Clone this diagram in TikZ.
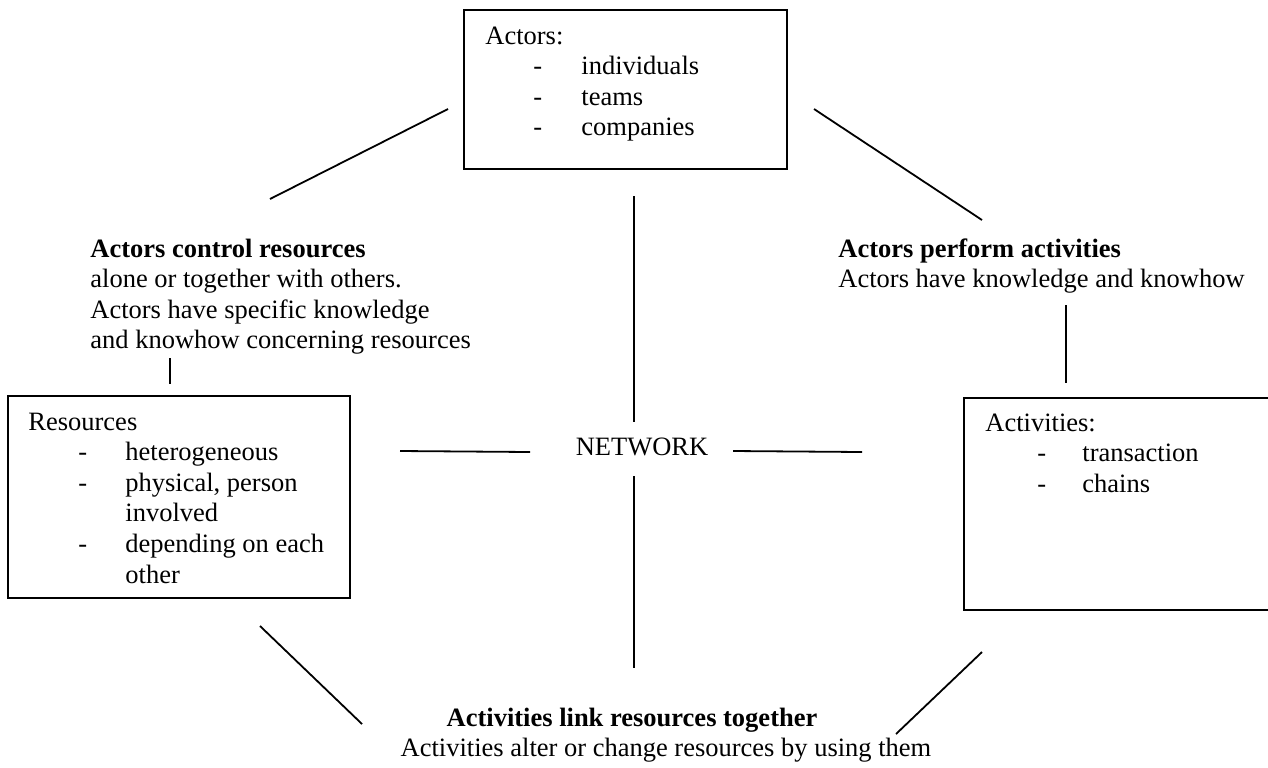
\documentclass[tikz,border=0pt]{standalone}
\usepackage{fontspec}
\setmainfont{Liberation Serif}
\usetikzlibrary{positioning}

\begin{document}
\begin{tikzpicture}[x=0.5pt,y=-0.5pt,
    every node/.style={font=\fontsize{13.25}{15.3}\selectfont},
    box/.style={draw,line width=1pt,inner sep=0pt,anchor=north west},
    txt/.style={anchor=base west,inner sep=0pt},
    link/.style={line width=0.9pt}]
        \useasboundingbox (0,0) rectangle (1268,767);
        % the three boxes
        \node[box,minimum width=161.5pt,minimum height=79.5pt] (actors) at (463,9) {};
        \node[box,minimum width=171pt,minimum height=101pt] (res) at (7,395) {};
        \node[box,minimum width=170pt,minimum height=106pt] (act) at (963,397) {};
        \node[txt] (actorsT) at (485,44) {\begin{tabular}[t]{@{}p{24pt}@{}p{24pt}@{}l@{}}
            \multicolumn{3}{@{}l@{}}{Actors:}\\ &-&individuals\\ &-&teams\\ &-&companies\end{tabular}};
        \node[txt] (resT) at (28,430) {\begin{tabular}[t]{@{}p{25pt}@{}p{23.5pt}@{}l@{}}
            \multicolumn{3}{@{}l@{}}{Resources}\\ &-&heterogeneous\\ &-&physical, person\\ &&involved\\
            &-&depending on each\\ &&other\end{tabular}};
        \node[txt] (actT) at (985,431) {\begin{tabular}[t]{@{}p{26pt}@{}p{22.5pt}@{}l@{}}
            \multicolumn{3}{@{}l@{}}{Activities:}\\ &-&transaction\\ &-&chains\end{tabular}};
        % labels
        \node[txt] (ctrl) at (90,257) {\begin{tabular}[t]{@{}l@{}}\textbf{Actors control resources}\\
            alone or together with others.\\ Actors have specific knowledge\\
            and knowhow concerning resources\end{tabular}};
        \node[txt] (perf) at (838,257) {\begin{tabular}[t]{@{}l@{}}\textbf{Actors perform activities}\\
            Actors have knowledge and knowhow\end{tabular}};
        \node[anchor=base,inner sep=0pt] (net) at (642,455) {NETWORK};
        \node[anchor=base,inner sep=0pt] (linkT) at (632,726) {\textbf{Activities link resources together}};
        \node[anchor=base,inner sep=0pt] (alterT) at (666,756) {Activities alter or change resources by using them};
        % free lines
        \coordinate (a1) at (270,199);  \coordinate (a2) at (448,109);
        \coordinate (b1) at (814,109);  \coordinate (b2) at (982,220);
        \coordinate (c1) at (634,196);  \coordinate (c2) at (634,422);
        \coordinate (d1) at (634,476);  \coordinate (d2) at (634,668);
        \coordinate (e1) at (400,451);  \coordinate (e2) at (530,452);
        \coordinate (f1) at (733,451);  \coordinate (f2) at (862,452);
        \coordinate (g1) at (170,358);  \coordinate (g2) at (170,384);
        \coordinate (h1) at (1066,305); \coordinate (h2) at (1066,383);
        \coordinate (i1) at (260,626);  \coordinate (i2) at (362,724);
        \coordinate (j1) at (982,652);  \coordinate (j2) at (896,734);
        \draw[link] (a1) -- (a2);
        \draw[link] (b1) -- (b2);
        \draw[link] (c1) -- (c2);
        \draw[link] (d1) -- (d2);
        \draw[link] (e1) -- (e2);
        \draw[link] (f1) -- (f2);
        \draw[link] (g1) -- (g2);
        \draw[link] (h1) -- (h2);
        \draw[link] (i1) -- (i2);
        \draw[link] (j1) -- (j2);
      \end{tikzpicture}
\end{document}
